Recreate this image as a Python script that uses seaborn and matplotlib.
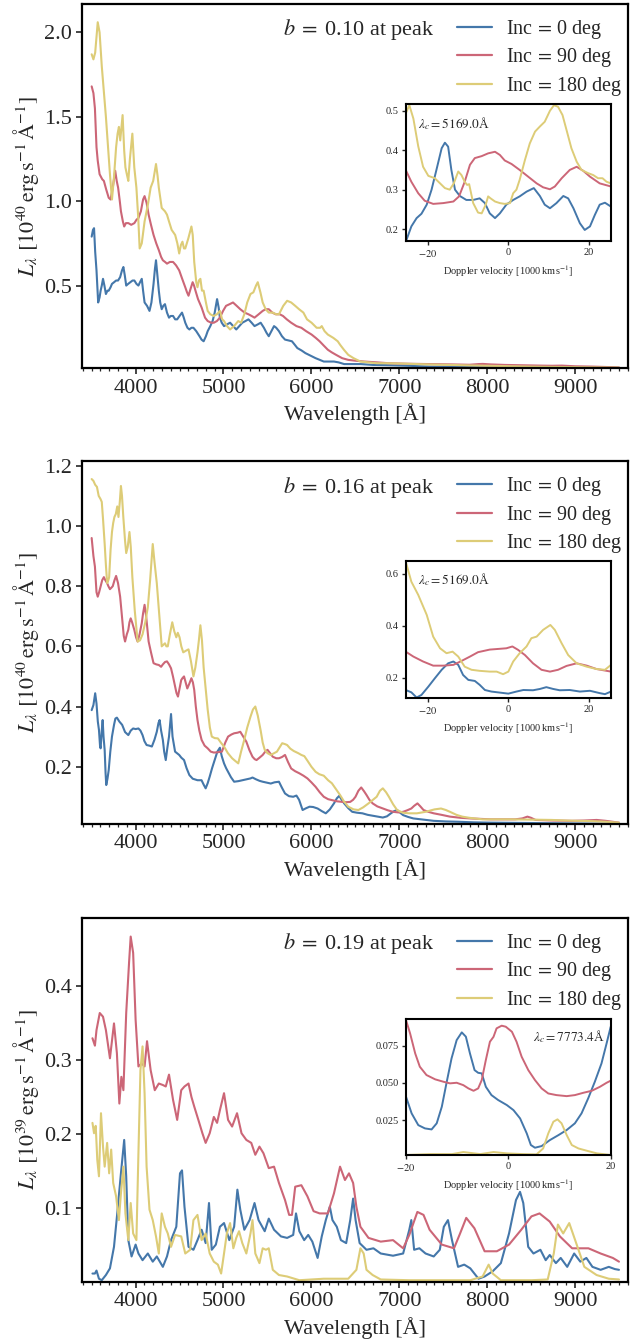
import matplotlib
matplotlib.use("Agg")
import matplotlib.pyplot as plt
from matplotlib.ticker import MultipleLocator, FixedLocator
import seaborn as sns
import pandas as pd

# ---------------- data ----------------
inc_labels = ["Inc$\\,=\\,$0 deg", "Inc$\\,=\\,$90 deg", "Inc$\\,=\\,$180 deg"]
colors = ["#4477AA", "#CC6677", "#DDCC77"]
b_labels = ["$b\\;=\\;$0.10 at peak", "$b\\;=\\;$0.16 at peak", "$b\\;=\\;$0.19 at peak"]
lamc_labels = ["$\\lambda_c=5169.0$Å", "$\\lambda_c=5169.0$Å", "$\\lambda_c=7773.4$Å"]
ylabels = ["$L_\\lambda\\ [10^{40}\\,\\mathrm{erg\\,s^{-1}\\,\\AA^{-1}}]$",
           "$L_\\lambda\\ [10^{40}\\,\\mathrm{erg\\,s^{-1}\\,\\AA^{-1}}]$",
           "$L_\\lambda\\ [10^{39}\\,\\mathrm{erg\\,s^{-1}\\,\\AA^{-1}}]$"]
xticks_main = [4000, 5000, 6000, 7000, 8000, 9000]
yticks_main = [[0.5, 1.0, 1.5, 2.0], [0.2, 0.4, 0.6, 0.8, 1.0, 1.2], [0.1, 0.2, 0.3, 0.4]]
yticks_inset = [[0.2, 0.3, 0.4, 0.5], [0.2, 0.4, 0.6], [0.025, 0.050, 0.075]]
ytick_fmt_inset = ["%.1f", "%.1f", "%.3f"]
xticks_inset = [-20, 0, 20]

# Panel 1 (b = 0.10)
p1_wl_0 = [3500,3515,3527,3540,3555,3574,3590,3602,3615,3629,3645,3662,3680,3694,3715,3731,3755,3778,3800,3824,3845,3861,3877,3893,3915,3940,3965,3986,4010,4032,4050,4070,4085,4102,4130,4158,4180,4204,4220,4232,4248,4264,4280,4297,4315,4334,4357,4380,4400,4426,4450,4473,4500,4528,4548,4565,4590,4612,4635,4658,4690,4727,4750,4774,4800,4820,4850,4876,4900,4927,4945,4959,4980,5006,5040,5075,5110,5145,5180,5214,5250,5284,5320,5353,5390,5423,5460,5490,5515,5545,5575,5600,5631,5665,5700,5740,5779,5810,5840,5890,5932,5990,6048,6095,6141,6200,6257,6310,6373,6450,6560,6700,6900,7100,7345,7600,8000,8500,9000,9500]
p1_L_0 = [0.79,0.83,0.84,0.70,0.59,0.40,0.43,0.47,0.50,0.54,0.50,0.45,0.47,0.47,0.49,0.51,0.52,0.53,0.53,0.55,0.59,0.61,0.56,0.50,0.51,0.52,0.53,0.53,0.51,0.50,0.52,0.54,0.47,0.40,0.38,0.35,0.40,0.51,0.60,0.65,0.56,0.47,0.40,0.36,0.38,0.39,0.34,0.31,0.32,0.32,0.30,0.30,0.32,0.34,0.31,0.28,0.25,0.24,0.25,0.25,0.23,0.20,0.18,0.17,0.20,0.23,0.26,0.29,0.34,0.42,0.37,0.31,0.28,0.26,0.27,0.28,0.26,0.24,0.26,0.28,0.29,0.30,0.28,0.26,0.27,0.28,0.25,0.22,0.20,0.23,0.26,0.25,0.23,0.20,0.18,0.175,0.17,0.15,0.13,0.115,0.10,0.085,0.07,0.06,0.05,0.05,0.05,0.045,0.035,0.035,0.035,0.03,0.028,0.025,0.02,0.018,0.016,0.014,0.013,0.012]
p1_wl_90 = [3500,3520,3537,3555,3569,3590,3620,3639,3665,3694,3715,3740,3768,3785,3801,3820,3833,3855,3870,3890,3917,3950,3986,4010,4032,4060,4085,4102,4125,4148,4175,4204,4235,4264,4290,4310,4335,4357,4390,4426,4460,4496,4530,4565,4585,4602,4625,4649,4665,4681,4710,4751,4790,4820,4860,4890,4925,4959,4995,5029,5070,5108,5150,5191,5240,5284,5320,5353,5400,5446,5480,5515,5555,5594,5640,5677,5720,5770,5830,5886,5940,6002,6050,6094,6140,6187,6230,6280,6350,6419,6500,6604,6750,6882,7100,7345,7600,7800,7902,7950,8041,8200,8400,8600,8736,8850,9000,9200,9400,9500]
p1_L_90 = [1.68,1.64,1.55,1.32,1.24,1.16,1.13,1.12,1.07,1.02,1.01,1.08,1.18,1.12,1.08,1.00,0.94,0.88,0.85,0.87,0.87,0.86,0.87,0.89,0.90,0.94,1.01,1.03,0.99,0.92,0.86,0.80,0.75,0.71,0.67,0.65,0.64,0.63,0.64,0.64,0.62,0.59,0.54,0.49,0.46,0.44,0.48,0.52,0.50,0.47,0.42,0.37,0.31,0.29,0.28,0.28,0.29,0.31,0.35,0.38,0.39,0.40,0.38,0.36,0.34,0.33,0.32,0.31,0.33,0.35,0.36,0.36,0.34,0.33,0.33,0.32,0.30,0.28,0.26,0.25,0.23,0.21,0.19,0.17,0.145,0.12,0.105,0.09,0.07,0.06,0.055,0.05,0.045,0.04,0.037,0.035,0.033,0.031,0.035,0.036,0.033,0.03,0.028,0.026,0.025,0.026,0.022,0.02,0.017,0.015]
p1_wl_180 = [3500,3520,3540,3569,3590,3615,3662,3708,3731,3755,3778,3795,3810,3825,3852,3870,3884,3900,3917,3935,3963,3985,4009,4030,4046,4070,4102,4140,4171,4200,4232,4250,4264,4297,4334,4357,4380,4410,4450,4475,4496,4515,4533,4550,4565,4600,4635,4650,4667,4690,4704,4720,4737,4755,4774,4800,4820,4850,4890,4925,4959,4985,5006,5040,5075,5120,5168,5200,5237,5270,5307,5340,5370,5390,5420,5446,5480,5515,5560,5600,5631,5680,5724,5770,5816,5860,5909,5950,6002,6060,6100,6118,6150,6187,6250,6300,6326,6370,6419,6480,6558,6650,6743,6850,7021,7200,7400,7577,7800,8000,8300,8504,8800,9100,9300,9500]
p1_L_180 = [1.87,1.84,1.88,2.06,2.00,1.80,1.50,1.16,1.01,1.15,1.32,1.40,1.44,1.36,1.51,1.30,1.20,1.16,1.12,1.25,1.40,1.20,1.08,0.90,0.72,0.75,0.88,0.98,1.08,1.12,1.22,1.15,1.08,0.96,0.94,0.92,0.88,0.83,0.80,0.75,0.69,0.74,0.76,0.72,0.72,0.78,0.85,0.80,0.64,0.52,0.49,0.53,0.54,0.47,0.47,0.40,0.35,0.33,0.32,0.33,0.35,0.30,0.29,0.26,0.24,0.26,0.29,0.28,0.33,0.40,0.45,0.46,0.50,0.52,0.46,0.40,0.36,0.34,0.34,0.33,0.33,0.38,0.41,0.40,0.38,0.36,0.34,0.30,0.28,0.25,0.25,0.26,0.23,0.21,0.19,0.17,0.15,0.12,0.09,0.07,0.05,0.045,0.04,0.04,0.038,0.035,0.032,0.03,0.027,0.025,0.022,0.02,0.018,0.016,0.015,0.014]

# Panel 2 (b = 0.16)
p2_wl_0 = [3500,3520,3540,3555,3570,3583,3595,3602,3615,3625,3635,3648,3658,3666,3680,3694,3712,3731,3755,3770,3787,3815,3847,3880,3917,3945,3972,4000,4032,4055,4079,4100,4125,4155,4185,4215,4241,4260,4273,4290,4310,4325,4343,4360,4380,4395,4403,4420,4449,4470,4496,4520,4551,4580,4612,4650,4704,4750,4775,4797,4820,4843,4870,4899,4930,4959,4980,5006,5030,5052,5085,5121,5170,5214,5260,5307,5330,5370,5410,5446,5490,5538,5580,5631,5665,5700,5745,5793,5830,5860,5900,5940,5979,6020,6071,6120,6164,6210,6257,6290,6317,6345,6373,6420,6465,6520,6581,6640,6697,6760,6813,6860,6905,6940,6975,7010,7044,7100,7160,7280,7392,7530,7670,7850,8041,8400,8736,9100,9500]
p2_L_0 = [0.388,0.405,0.444,0.41,0.35,0.322,0.27,0.261,0.32,0.355,0.30,0.255,0.18,0.139,0.16,0.189,0.25,0.30,0.34,0.36,0.363,0.35,0.339,0.315,0.305,0.32,0.327,0.325,0.327,0.32,0.305,0.285,0.272,0.27,0.267,0.29,0.316,0.345,0.355,0.32,0.289,0.25,0.222,0.26,0.30,0.35,0.375,0.30,0.25,0.245,0.239,0.23,0.222,0.195,0.172,0.16,0.155,0.155,0.14,0.128,0.145,0.167,0.195,0.222,0.25,0.263,0.235,0.211,0.195,0.183,0.165,0.15,0.152,0.155,0.158,0.161,0.164,0.158,0.153,0.15,0.147,0.144,0.148,0.15,0.13,0.111,0.102,0.10,0.104,0.09,0.056,0.062,0.067,0.066,0.061,0.052,0.045,0.058,0.078,0.095,0.103,0.09,0.078,0.062,0.05,0.047,0.045,0.04,0.037,0.034,0.031,0.035,0.045,0.052,0.056,0.047,0.039,0.033,0.028,0.024,0.02,0.018,0.017,0.015,0.014,0.013,0.012,0.011,0.01]
p2_wl_90 = [3500,3520,3537,3555,3569,3585,3602,3620,3639,3655,3676,3690,3708,3725,3740,3760,3778,3800,3824,3850,3865,3880,3900,3917,3930,3944,3960,3985,4005,4023,4045,4070,4085,4102,4120,4148,4175,4204,4235,4264,4290,4310,4335,4357,4380,4403,4425,4449,4465,4482,4500,4519,4535,4551,4570,4588,4610,4635,4652,4667,4685,4704,4725,4751,4785,4820,4855,4890,4935,4982,5020,5052,5090,5121,5160,5191,5225,5260,5295,5330,5355,5376,5410,5446,5475,5501,5530,5561,5600,5631,5665,5700,5735,5770,5815,5863,5910,5955,6000,6048,6095,6141,6190,6233,6290,6349,6400,6442,6475,6502,6535,6567,6600,6627,6660,6697,6750,6813,6870,6929,6990,7044,7090,7137,7170,7207,7240,7276,7330,7392,7480,7577,7700,7809,7950,8041,8200,8319,8400,8458,8500,8550,8750,8967,9100,9245,9350,9450,9500]
p2_L_90 = [0.96,0.90,0.865,0.78,0.765,0.78,0.80,0.82,0.83,0.82,0.81,0.80,0.79,0.795,0.80,0.82,0.834,0.81,0.765,0.68,0.635,0.616,0.64,0.655,0.68,0.693,0.68,0.655,0.63,0.616,0.64,0.677,0.71,0.738,0.70,0.616,0.58,0.544,0.54,0.538,0.532,0.54,0.548,0.55,0.54,0.527,0.50,0.466,0.445,0.433,0.46,0.488,0.495,0.50,0.48,0.46,0.475,0.494,0.48,0.455,0.40,0.355,0.32,0.289,0.27,0.261,0.25,0.247,0.248,0.25,0.28,0.30,0.307,0.311,0.313,0.316,0.30,0.283,0.255,0.233,0.225,0.222,0.23,0.239,0.25,0.256,0.245,0.233,0.228,0.228,0.232,0.239,0.215,0.194,0.185,0.178,0.17,0.161,0.148,0.133,0.115,0.10,0.092,0.089,0.085,0.083,0.082,0.083,0.09,0.10,0.12,0.131,0.118,0.106,0.09,0.078,0.068,0.061,0.055,0.05,0.048,0.05,0.055,0.061,0.07,0.078,0.068,0.056,0.05,0.045,0.04,0.034,0.03,0.028,0.026,0.025,0.025,0.025,0.028,0.034,0.03,0.023,0.021,0.02,0.021,0.023,0.02,0.016,0.014]
p2_wl_180 = [3500,3520,3540,3560,3580,3600,3615,3630,3648,3662,3676,3690,3699,3715,3731,3745,3759,3775,3791,3805,3820,3833,3845,3860,3880,3893,3910,3930,3945,3963,3990,4023,4050,4079,4110,4139,4165,4195,4215,4241,4270,4297,4315,4334,4350,4366,4390,4417,4440,4463,4480,4500,4520,4542,4570,4602,4630,4658,4680,4704,4720,4737,4755,4774,4800,4820,4845,4867,4900,4936,4970,5006,5050,5098,5130,5168,5200,5237,5270,5307,5335,5362,5390,5423,5446,5469,5500,5538,5575,5608,5640,5668,5700,5724,5760,5800,5850,5886,5920,5955,6000,6048,6090,6141,6190,6233,6280,6326,6370,6419,6480,6535,6590,6650,6700,6743,6780,6813,6850,6882,6930,6975,7040,7114,7200,7300,7400,7475,7530,7577,7650,7716,7800,7948,8100,8272,8500,8736,8900,9060,9200,9350,9500]
p2_L_180 = [1.156,1.15,1.137,1.13,1.10,1.09,1.08,1.02,0.94,0.87,0.81,0.82,0.83,0.92,0.98,1.01,1.03,1.04,1.065,1.03,1.08,1.133,1.10,1.03,0.95,0.91,0.93,0.98,0.93,0.83,0.72,0.616,0.62,0.64,0.68,0.73,0.82,0.94,0.88,0.81,0.70,0.60,0.605,0.61,0.60,0.60,0.64,0.68,0.65,0.63,0.645,0.63,0.60,0.58,0.585,0.59,0.55,0.50,0.53,0.58,0.62,0.67,0.62,0.53,0.45,0.39,0.33,0.30,0.295,0.294,0.28,0.267,0.245,0.228,0.22,0.211,0.25,0.29,0.33,0.366,0.39,0.40,0.37,0.32,0.28,0.256,0.245,0.239,0.245,0.25,0.265,0.278,0.275,0.272,0.26,0.252,0.245,0.239,0.235,0.22,0.20,0.183,0.175,0.17,0.155,0.145,0.125,0.106,0.085,0.067,0.058,0.056,0.065,0.078,0.09,0.10,0.12,0.128,0.115,0.10,0.075,0.056,0.047,0.045,0.045,0.05,0.058,0.061,0.056,0.05,0.04,0.034,0.03,0.025,0.025,0.025,0.024,0.023,0.021,0.02,0.019,0.017,0.014]

# Panel 3 (b = 0.19)
p3_wl_0 = [3509,3537,3555,3583,3615,3662,3708,3754,3791,3833,3870,3893,3917,3954,4000,4032,4079,4139,4195,4241,4310,4357,4403,4463,4505,4528,4556,4602,4658,4704,4751,4797,4835,4866,4913,4959,5006,5066,5121,5158,5191,5237,5297,5353,5399,5469,5515,5575,5654,5724,5793,5825,5863,5918,5964,6011,6071,6118,6164,6210,6240,6289,6336,6396,6442,6475,6503,6549,6627,6706,6789,6929,7044,7114,7137,7169,7229,7299,7392,7461,7507,7554,7600,7669,7739,7808,7901,7971,8063,8156,8249,8328,8374,8411,8467,8527,8606,8666,8712,8782,8837,8911,8990,9060,9129,9198,9291,9384,9453,9500]
p3_L_0 = [0.012,0.012,0.016,0.005,0.003,0.01,0.019,0.048,0.093,0.147,0.192,0.143,0.057,0.035,0.051,0.039,0.03,0.039,0.028,0.035,0.021,0.035,0.057,0.075,0.147,0.151,0.102,0.048,0.044,0.057,0.071,0.053,0.107,0.044,0.051,0.075,0.08,0.057,0.075,0.125,0.098,0.071,0.084,0.107,0.084,0.069,0.086,0.071,0.062,0.06,0.064,0.093,0.069,0.057,0.064,0.055,0.033,0.062,0.084,0.102,0.084,0.075,0.057,0.053,0.084,0.113,0.084,0.053,0.044,0.046,0.039,0.036,0.039,0.071,0.084,0.044,0.046,0.039,0.035,0.044,0.075,0.084,0.057,0.021,0.024,0.019,0.005,0.008,0.015,0.026,0.066,0.111,0.122,0.107,0.048,0.039,0.044,0.03,0.037,0.026,0.033,0.021,0.039,0.028,0.033,0.021,0.017,0.021,0.018,0.017]
p3_wl_90 = [3509,3537,3555,3592,3629,3662,3708,3754,3787,3815,3838,3861,3893,3926,3944,3972,4000,4032,4070,4102,4130,4171,4218,4264,4310,4343,4380,4426,4473,4519,4556,4602,4635,4667,4714,4760,4797,4843,4890,4927,4959,5006,5052,5098,5154,5205,5260,5316,5362,5409,5455,5515,5575,5631,5700,5747,5779,5816,5886,5955,6025,6094,6187,6257,6326,6382,6428,6475,6512,6558,6650,6789,6929,7044,7114,7206,7276,7345,7484,7623,7692,7762,7855,7971,8110,8249,8388,8504,8596,8712,8828,8967,9152,9291,9430,9500]
p3_L_90 = [0.329,0.319,0.34,0.363,0.358,0.34,0.302,0.349,0.309,0.241,0.277,0.259,0.363,0.432,0.466,0.444,0.354,0.291,0.295,0.291,0.325,0.286,0.259,0.268,0.266,0.264,0.28,0.246,0.219,0.259,0.264,0.268,0.25,0.237,0.219,0.201,0.188,0.201,0.223,0.215,0.232,0.255,0.219,0.21,0.228,0.201,0.192,0.188,0.172,0.183,0.174,0.154,0.156,0.134,0.111,0.091,0.091,0.129,0.131,0.116,0.096,0.093,0.093,0.12,0.156,0.138,0.147,0.134,0.102,0.075,0.06,0.055,0.057,0.046,0.064,0.095,0.091,0.071,0.051,0.046,0.066,0.087,0.073,0.042,0.042,0.051,0.071,0.089,0.093,0.082,0.062,0.046,0.046,0.039,0.033,0.028]
p3_wl_180 = [3509,3527,3546,3564,3583,3606,3629,3648,3676,3699,3722,3745,3778,3810,3833,3861,3884,3917,3944,3972,4009,4032,4055,4079,4102,4125,4158,4195,4232,4264,4297,4334,4366,4403,4449,4519,4565,4621,4658,4704,4751,4797,4843,4890,4936,4973,5006,5038,5075,5112,5145,5177,5214,5260,5307,5330,5362,5409,5446,5483,5515,5561,5631,5724,5863,6141,6419,6512,6558,6595,6627,6697,6789,7114,7808,7948,8017,8063,8156,8504,8689,8758,8805,8865,8934,9013,9106,9245,9384,9500]
p3_L_180 = [0.215,0.201,0.211,0.165,0.143,0.228,0.183,0.156,0.188,0.147,0.179,0.134,0.116,0.084,0.12,0.156,0.093,0.057,0.107,0.066,0.057,0.174,0.286,0.318,0.255,0.156,0.098,0.084,0.062,0.039,0.093,0.075,0.066,0.048,0.064,0.062,0.039,0.044,0.084,0.091,0.057,0.066,0.039,0.028,0.024,0.012,0.039,0.066,0.08,0.046,0.06,0.069,0.053,0.039,0.066,0.084,0.039,0.026,0.046,0.044,0.046,0.017,0.01,0.008,0.003,0.005,0.005,0.017,0.046,0.039,0.017,0.01,0.004,0.003,0.003,0.008,0.024,0.012,0.003,0.003,0.004,0.039,0.078,0.066,0.08,0.053,0.021,0.01,0.005,0.004]

# Insets: Doppler velocity [1000 km/s]
i1_v_0 = [-25.2,-24.0,-22.7,-21.5,-20.2,-19.0,-17.8,-16.5,-15.7,-14.9,-14.1,-13.2,-12.0,-10.4,-8.7,-7.1,-5.8,-4.6,-3.3,-2.1,-0.5,1.2,2.8,4.5,6.3,7.8,9.0,10.3,11.9,13.6,14.8,16.1,17.7,18.9,20.2,21.4,22.6,23.9,25.4]
i1_L_0 = [0.173,0.207,0.228,0.239,0.262,0.30,0.35,0.405,0.419,0.409,0.35,0.30,0.284,0.274,0.274,0.278,0.266,0.24,0.228,0.24,0.262,0.274,0.283,0.295,0.304,0.284,0.262,0.253,0.266,0.284,0.278,0.253,0.215,0.198,0.207,0.236,0.262,0.267,0.257]
i1_v_90 = [-25.4,-24.0,-22.3,-20.7,-18.6,-16.1,-13.6,-12.2,-10.8,-9.5,-8.3,-6.6,-5.0,-3.3,-2.1,-0.9,0.8,2.8,4.9,7.0,8.6,10.3,11.5,13.2,15.2,16.9,18.5,20.2,22.6,25.4]
i1_L_90 = [0.35,0.32,0.291,0.272,0.264,0.266,0.27,0.283,0.32,0.363,0.38,0.385,0.392,0.396,0.388,0.374,0.365,0.35,0.333,0.316,0.306,0.301,0.308,0.329,0.35,0.358,0.348,0.333,0.316,0.308]
i1_v_180 = [-25.4,-24.5,-23.5,-22.3,-21.1,-19.8,-18.2,-16.9,-15.7,-14.5,-13.5,-12.4,-11.6,-10.8,-10.2,-9.7,-8.7,-7.5,-6.6,-5.6,-5.0,-4.4,-3.3,-2.1,-0.9,0.4,1.2,2.0,2.8,4.1,5.3,6.6,7.8,9.0,10.3,11.3,12.3,13.4,14.4,15.6,16.9,18.1,19.7,21.0,22.2,23.3,24.3,25.4]
i1_L_180 = [0.493,0.514,0.48,0.41,0.358,0.335,0.329,0.316,0.304,0.30,0.316,0.346,0.337,0.32,0.312,0.314,0.266,0.242,0.24,0.262,0.283,0.278,0.27,0.266,0.264,0.266,0.291,0.30,0.325,0.375,0.417,0.447,0.46,0.472,0.50,0.514,0.51,0.489,0.451,0.405,0.371,0.35,0.342,0.337,0.329,0.329,0.32,0.316]

i2_v_0 = [-25.4,-24.0,-22.7,-21.5,-19.8,-18.2,-16.5,-14.9,-13.6,-12.4,-11.2,-9.9,-8.3,-7.1,-5.8,-4.2,-2.1,0.0,2.0,3.7,6.1,7.8,9.4,11.1,12.7,15.2,17.7,20.2,22.6,23.9,25.4]
i2_L_0 = [0.152,0.143,0.123,0.133,0.165,0.197,0.23,0.255,0.262,0.249,0.21,0.191,0.187,0.172,0.152,0.146,0.142,0.138,0.146,0.152,0.151,0.156,0.163,0.156,0.151,0.152,0.146,0.149,0.14,0.136,0.146]
i2_v_90 = [-25.4,-23.5,-21.1,-18.6,-16.1,-13.6,-11.6,-9.5,-7.5,-4.6,-2.1,-0.5,1.0,2.4,4.1,6.1,8.2,10.3,12.3,14.4,16.9,19.4,21.8,25.4]
i2_L_90 = [0.30,0.281,0.262,0.246,0.246,0.249,0.264,0.281,0.298,0.308,0.311,0.313,0.32,0.307,0.287,0.255,0.23,0.223,0.23,0.245,0.255,0.246,0.233,0.223]
i2_v_180 = [-25.4,-24.0,-22.3,-20.2,-18.6,-16.9,-15.3,-13.8,-12.4,-10.8,-9.1,-7.1,-4.6,-2.9,-1.3,0.0,1.2,2.8,4.5,5.7,7.0,8.6,10.4,11.5,13.2,14.8,16.9,19.4,21.8,23.9,25.4]
i2_L_180 = [0.648,0.57,0.519,0.442,0.358,0.313,0.294,0.30,0.281,0.242,0.23,0.226,0.223,0.223,0.213,0.223,0.262,0.294,0.32,0.352,0.358,0.384,0.403,0.384,0.332,0.287,0.255,0.242,0.233,0.23,0.249]

i3_v_0 = [-20.0,-18.9,-17.6,-16.3,-15.0,-14.0,-13.0,-12.1,-11.1,-10.1,-9.1,-8.3,-7.5,-6.6,-5.9,-5.2,-4.4,-3.3,-2.0,-0.3,1.0,2.3,3.6,4.4,5.2,6.5,8.1,9.8,11.4,13.0,14.3,15.6,16.9,18.2,19.2,20.0]
i3_L_0 = [0.0407,0.0295,0.0216,0.0194,0.0187,0.0228,0.034,0.0497,0.0665,0.0788,0.084,0.0811,0.0698,0.0586,0.0568,0.0564,0.0474,0.0418,0.0385,0.0351,0.0317,0.0261,0.016,0.0082,0.0064,0.0075,0.0115,0.0149,0.0183,0.0228,0.0295,0.0396,0.0508,0.0631,0.0766,0.0878]
i3_v_90 = [-20.0,-19.2,-18.2,-17.3,-16.0,-14.3,-12.7,-11.4,-10.1,-8.8,-7.8,-6.8,-5.9,-5.2,-4.4,-3.6,-2.9,-2.3,-1.3,-0.5,0.7,1.6,2.6,3.9,5.2,6.5,7.8,9.4,11.4,13.0,14.7,16.3,17.9,19.2,20.0]
i3_L_90 = [0.0923,0.0833,0.0698,0.0609,0.0553,0.0524,0.0508,0.0497,0.0501,0.0485,0.0463,0.0447,0.0463,0.0519,0.0654,0.0777,0.081,0.0867,0.0885,0.0878,0.0844,0.0777,0.0676,0.0586,0.0519,0.0463,0.0429,0.0418,0.0411,0.0418,0.0434,0.0447,0.0474,0.0501,0.0515]
i3_v_180 = [-20.0,-15.3,-11.0,-8.8,-5.5,-2.9,-0.3,2.9,5.5,6.8,7.8,8.8,9.6,10.4,11.4,12.4,13.7,15.3,17.3,20.0]
i3_L_180 = [0.0015,0.0021,0.0021,0.0035,0.0021,0.0035,0.0026,0.0021,0.0019,0.0059,0.016,0.0239,0.0255,0.0228,0.0149,0.0082,0.0059,0.0044,0.0026,0.0015]

main_series = [
    [(p1_wl_0, p1_L_0), (p1_wl_90, p1_L_90), (p1_wl_180, p1_L_180)],
    [(p2_wl_0, p2_L_0), (p2_wl_90, p2_L_90), (p2_wl_180, p2_L_180)],
    [(p3_wl_0, p3_L_0), (p3_wl_90, p3_L_90), (p3_wl_180, p3_L_180)],
]
inset_series = [
    [(i1_v_0, i1_L_0), (i1_v_90, i1_L_90), (i1_v_180, i1_L_180)],
    [(i2_v_0, i2_L_0), (i2_v_90, i2_L_90), (i2_v_180, i2_L_180)],
    [(i3_v_0, i3_L_0), (i3_v_90, i3_L_90), (i3_v_180, i3_L_180)],
]

# ---------------- style ----------------
sns.set_theme(style="ticks")
plt.rcParams["font.family"] = ["Liberation Serif", "DejaVu Serif"]
plt.rcParams["mathtext.fontset"] = "stix"
plt.rcParams["axes.linewidth"] = 1.6
plt.rcParams["axes.edgecolor"] = "black"

fig = plt.figure(figsize=(6.4, 13.42), dpi=100)
W, H = 640.0, 1342.0

main_boxes = [(82, 4, 628.3, 368.3), (82, 461.3, 628.3, 824), (82, 918, 628.3, 1281.7)]
inset_boxes = [(405.7, 104, 611, 241), (405.7, 560.7, 611, 698.3), (406, 1018.7, 610.7, 1155)]
main_ylims = [(0.010, 2.168), (0.0095, 1.215), (0.001, 0.491)]
inset_xlims = [(-25.4, 25.4), (-25.4, 25.4), (-20, 20)]
inset_ylims = [(0.17, 0.517), (0.12, 0.651), (0.0015, 0.0932)]


def box_to_rect(b):
    x0, y0, x1, y1 = b
    return [x0 / W, 1 - y1 / H, (x1 - x0) / W, (y1 - y0) / H]


for k in range(3):
    ax = fig.add_axes(box_to_rect(main_boxes[k]))
    for j in range(3):
        wl, L = main_series[k][j]
        df = pd.DataFrame({"wl": wl, "L": L})
        sns.lineplot(data=df, x="wl", y="L", ax=ax, color=colors[j], lw=1.5,
                     label=inc_labels[j], estimator=None, sort=False)
    ax.set_xlim(3390, 9606)
    ax.set_ylim(*main_ylims[k])
    ax.xaxis.set_major_locator(FixedLocator(xticks_main))
    ax.xaxis.set_minor_locator(MultipleLocator(100))
    ax.yaxis.set_major_locator(FixedLocator(yticks_main[k]))
    ax.set_yticklabels(["%.1f" % v for v in yticks_main[k]])
    ax.tick_params(axis="both", which="major", direction="out", length=4.5, width=1.2,
                   labelsize=16, top=False, right=False, pad=3)
    ax.tick_params(axis="x", which="minor", direction="out", length=2.2, width=0.9,
                   top=False)
    ax.set_xlabel("Wavelength [Å]", fontsize=16, labelpad=4)
    ax.set_ylabel(ylabels[k], fontsize=16, labelpad=2)
    for s in ax.spines.values():
        s.set_linewidth(1.6)
        s.set_color("black")
    leg = ax.legend(loc="upper left", bbox_to_anchor=(0.686, 0.962), frameon=False,
                    fontsize=14.5, handlelength=1.76, handletextpad=0.67,
                    labelspacing=0.28, borderpad=0, borderaxespad=0)
    for h in leg.get_lines():
        h.set_linewidth(1.6)
    ax.text(0.646, 0.929, b_labels[k], transform=ax.transAxes, ha="right",
            va="center", fontsize=16)

    ins = fig.add_axes(box_to_rect(inset_boxes[k]))
    for j in range(3):
        v, L = inset_series[k][j]
        df = pd.DataFrame({"v": v, "L": L})
        sns.lineplot(data=df, x="v", y="L", ax=ins, color=colors[j], lw=1.4,
                     estimator=None, sort=False, legend=False)
    ins.set_xlim(*inset_xlims[k])
    ins.set_ylim(*inset_ylims[k])
    ins.xaxis.set_major_locator(FixedLocator(xticks_inset))
    ins.yaxis.set_major_locator(FixedLocator(yticks_inset[k]))
    ins.set_yticklabels([ytick_fmt_inset[k] % v for v in yticks_inset[k]])
    ins.set_xticklabels(["$-20$", "0", "20"])
    ins.tick_params(axis="both", which="major", direction="out", length=3, width=1.0,
                    labelsize=7.5, top=False, right=False, pad=2)
    ins.set_xlabel("Doppler velocity [1000$\\,$km$\\,$s$^{-1}$]", fontsize=7.5, labelpad=3)
    ins.set_ylabel("")
    for s in ins.spines.values():
        s.set_linewidth(1.5)
        s.set_color("black")
    if k < 2:
        ins.text(0.06, 0.86, lamc_labels[k], transform=ins.transAxes, ha="left",
                 va="center", fontsize=9.5)
    else:
        ins.text(0.97, 0.87, lamc_labels[k], transform=ins.transAxes, ha="right",
                 va="center", fontsize=9.5)

fig.savefig("out.png", dpi=100)
